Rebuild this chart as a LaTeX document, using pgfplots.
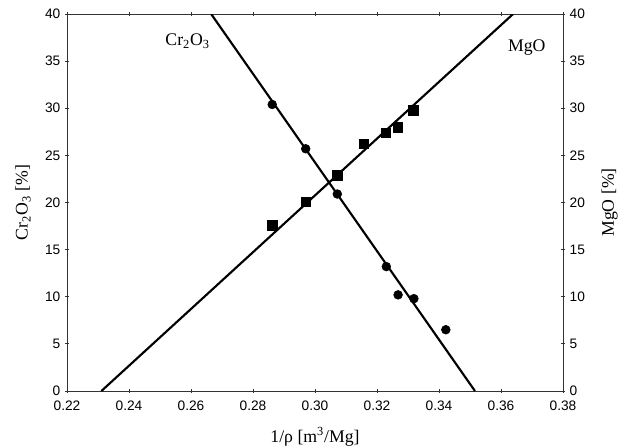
\documentclass[border=0pt]{standalone}
\usepackage{pgfplots}
\pgfplotsset{compat=1.18}
\usepackage{fontspec}
\setmainfont{Liberation Serif}
\newfontfamily\arial{Liberation Sans}
\begin{document}
\begin{tikzpicture}
\pgfplotsset{
  common/.style={
    scale only axis, width=372pt, height=282.75pt,
    xmin=0.22, xmax=0.38, ymin=0, ymax=40,
    xtick={0.22,0.24,...,0.38}, ytick={0,5,...,40},
    tick align=center, major tick length=3pt,
    axis line style={black!80, line width=0.6pt},
    every tick/.style={black!80, line width=0.6pt},
    tick label style={font=\arial\fontsize{10.3}{12}\selectfont},
    /pgf/number format/assume math mode=true,
    label style={font=\fontsize{13.3}{15}\selectfont},
  }
}
\begin{axis}[common,
  xticklabel style={yshift=-2.5pt, /pgf/number format/.cd, fixed, fixed zerofill, precision=2},
  yticklabel pos=left,
  xlabel={1/ρ [m\textsuperscript{3}/Mg]},
  xlabel style={at={(axis description cs:0.5,-0.122)}, anchor=center},
  ylabel={Cr\textsubscript{2}O\textsubscript{3} [\%]},
  ylabel style={at={(axis description cs:-0.0887,0.5)}, anchor=center},
]
% Cr2O3 fitted line and data
\addplot[black, line width=1.6pt, no marks] coordinates {(0.2665,40) (0.3516,0)};
\addplot[only marks, mark=*, mark size=3.3pt, black] coordinates {
  (0.2862,30.4) (0.2970,25.7) (0.3072,20.9) (0.3230,13.2)
  (0.3268,10.2) (0.3319,9.8) (0.3422,6.5)};
% MgO fitted line and data
\addplot[black, line width=1.6pt, no marks] coordinates {(0.2311,0) (0.3639,40)};
\addplot[only marks, mark=square*, mark size=3.5pt, black] coordinates {
  (0.2862,17.6) (0.2970,20.1) (0.3072,22.9) (0.3157,26.2)
  (0.3228,27.4) (0.3267,28.0) (0.3317,29.8)};
\node[font=\fontsize{13.3}{15}\selectfont] at (axis cs:0.2589,37.1) {Cr\textsubscript{2}O\textsubscript{3}};
\node[font=\fontsize{13.3}{15}\selectfont] at (axis cs:0.3683,36.4) {MgO};
\end{axis}
\begin{axis}[common,
  axis x line=none, axis y line*=right,
  ylabel={MgO [\%]},
  ylabel style={at={(axis description cs:1.094,0.5)}, anchor=center},
]
\addplot[draw=none] coordinates {(0.3,20)};
\end{axis}
\pgfresetboundingbox
\path (-50.25pt,-41.25pt) rectangle (420.75pt,293.25pt);
\end{tikzpicture}
\end{document}
